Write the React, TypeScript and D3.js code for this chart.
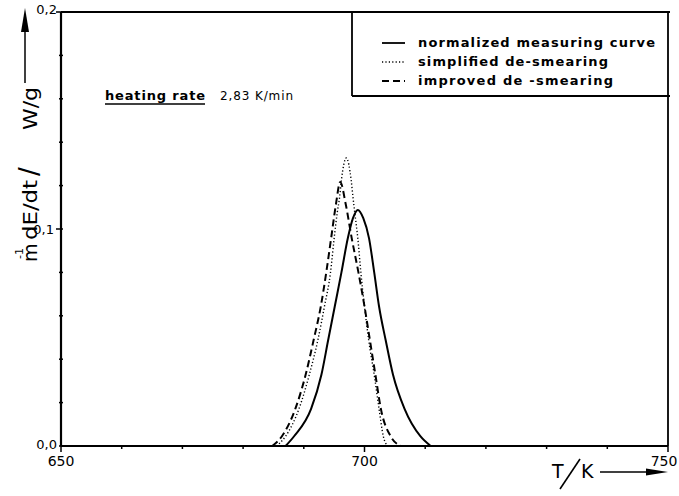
import React from 'react';
import * as d3 from 'd3';

// curves: [T in K, m^-1 dE/dt in W/g]
const measuringCurve: [number, number][] = [
  [687.0, 0], [688.4, 0.0045], [691.2, 0.0171], [692.9, 0.0328], [694.0, 0.0486],
  [695.1, 0.0643], [696.2, 0.080], [697.25, 0.0957], [698.1, 0.105], [698.9, 0.1088],
  [699.8, 0.105], [700.75, 0.0957], [701.6, 0.080], [702.4, 0.0643], [703.5, 0.0486],
  [704.7, 0.0328], [706.6, 0.0171], [709.2, 0.0045], [710.9, 0],
];
const simplifiedCurve: [number, number][] = [
  [685.5, 0], [687.0, 0.0045], [689.2, 0.0171], [690.9, 0.0328], [692.3, 0.0486],
  [693.4, 0.0643], [694.4, 0.080], [695.0, 0.0957], [695.5, 0.1074], [695.9, 0.1147],
  [696.2, 0.1226], [697.0, 0.1327], [697.8, 0.1226], [698.1, 0.1147], [698.4, 0.1074],
  [698.9, 0.0957], [699.4, 0.080], [700.0, 0.0643], [700.7, 0.0486], [701.6, 0.0328],
  [702.4, 0.0171], [703.1, 0.0045], [703.8, 0],
];
const improvedCurve: [number, number][] = [
  [684.8, 0], [686.4, 0.0045], [688.6, 0.0171], [690.3, 0.0328], [691.6, 0.0486],
  [692.8, 0.0643], [693.7, 0.080], [694.5, 0.0957], [695.3, 0.1115], [696.0, 0.1217],
  [696.9, 0.1115], [697.9, 0.0957], [699.0, 0.080], [700.0, 0.0643], [700.9, 0.0486],
  [701.8, 0.0328], [702.7, 0.0171], [704.3, 0.0045], [706.0, 0],
];

const xTickValues = [650, 700, 750];
const xTickLabels = ['650', '700', '750'];
const yTickValues = [0, 0.1, 0.2];
const yTickLabels = ['0,0', '0,1', '0,2'];

const legendLabels = ['normalized measuring curve', 'simplified de-smearing', 'improved de -smearing'];
const legendDash = ['none', '1.2,2.2', '7,4'];
const legendWidths = [237, 190, 195];

const font = '"DejaVu Sans", sans-serif';

export default function App() {
  const x = d3.scaleLinear().domain([650, 750]).range([61, 668]);
  const y = d3.scaleLinear().domain([0, 0.2]).range([446, 12]);

  const line = d3.line<[number, number]>()
    .x(d => x(d[0]))
    .y(d => y(d[1]))
    .curve(d3.curveMonotoneX);

  const series = [
    { data: measuringCurve, dash: 'none', w: 2 },
    { data: simplifiedCurve, dash: '1.2,2.2', w: 1.4 },
    { data: improvedCurve, dash: '7,4', w: 2 },
  ];

  const minorX = d3.range(650, 751, 10);
  const minorY = d3.range(0, 0.2001, 0.02);

  return (
    <svg width={679} height={496} style={{ position: 'absolute', left: 0, top: 0, background: '#fff' }}>
      {/* frame */}
      <g stroke="#000" fill="none">
        <line x1={x(650)} x2={x(650)} y1={y(0.2)} y2={y(0)} strokeWidth={2.2} />
        <line x1={x(650)} x2={x(750)} y1={y(0)} y2={y(0)} strokeWidth={2} />
        <line x1={x(750)} x2={x(750)} y1={y(0.2)} y2={y(0)} strokeWidth={1.8} />
        <line x1={x(650)} x2={x(750) + 2} y1={y(0.2)} y2={y(0.2)} strokeWidth={1.8} />
        {minorY.map(v => (
          <line key={'ty' + v} x1={x(650) - (Math.abs(v - 0.1) < 1e-6 || v > 0.199 ? 5 : 2)} x2={x(650) + 2}
            y1={y(v)} y2={y(v)} strokeWidth={1.5} />
        ))}
        {minorX.map(v => (
          <line key={'tx' + v} x1={x(v)} x2={x(v)} y1={y(0)}
            y2={y(0) + (v % 50 === 0 ? 6 : 3)} strokeWidth={1.5} />
        ))}
      </g>

      {/* curves */}
      {series.map((s, i) => (
        <path key={i} d={line(s.data) || ''} fill="none" stroke="#000"
          strokeWidth={s.w} strokeDasharray={s.dash} />
      ))}

      {/* tick labels */}
      <g fontFamily={font} fontSize={14} fill="#000" textAnchor="middle">
        {xTickValues.map((v, i) => (
          <text key={v} x={x(v) - (v === 750 ? 4 : 0)} y={466}>{xTickLabels[i]}</text>
        ))}
      </g>
      <g fontFamily={font} fontSize={13} fill="#000" textAnchor="end">
        {yTickValues.map((v, i) => (
          <text key={v} x={x(650) - (v === 0.1 ? 7 : 4)} y={y(v) + (v === 0.2 ? 2 : v === 0 ? 3 : 5)}>
            {yTickLabels[i]}
          </text>
        ))}
      </g>

      {/* legend */}
      <g stroke="#000" fill="none" strokeWidth={1.8}>
        <line x1={352} x2={352} y1={y(0.2)} y2={96} />
        <line x1={352} x2={x(750) + 2} y1={96} y2={96} />
      </g>
      {legendLabels.map((t, i) => {
        const by = 47 + i * 19;
        return (
          <g key={t}>
            <line x1={382} x2={405} y1={by - 4} y2={by - 4} stroke="#000"
              strokeWidth={i === 1 ? 1.4 : 1.8} strokeDasharray={legendDash[i]} />
            <text x={418} y={by} fontFamily={font} fontSize={13} fontWeight="bold"
              textLength={legendWidths[i]} lengthAdjust="spacing">{t}</text>
          </g>
        );
      })}

      {/* annotation */}
      <text x={105} y={100} fontFamily={font} fontSize={13} fontWeight="bold"
        textLength={100} lengthAdjust="spacing">heating rate</text>
      <line x1={105} x2={205} y1={104} y2={104} stroke="#000" strokeWidth={1.5} />
      <text x={220} y={100} fontFamily={font} fontSize={12}
        textLength={73} lengthAdjust="spacing">2,83 K/min</text>

      {/* y axis title */}
      <g transform="rotate(-90)" fontFamily={font} fill="#000">
        <text x={-262} y={37} fontSize={19}>m</text>
        <text x={-259} y={23} fontSize={11}>-1</text>
        <text x={-240} y={37} fontSize={19} textLength={60} lengthAdjust="spacingAndGlyphs">dE/dt</text>
        <text x={-176} y={38} fontSize={26}>/</text>
        <text x={-130} y={37} fontSize={19} textLength={43} lengthAdjust="spacingAndGlyphs">W/g</text>
      </g>
      <line x1={25} x2={25} y1={83} y2={26} stroke="#000" strokeWidth={1.5} />
      <path d="M25,8 L21,32 L29,32 Z" fill="#000" />

      {/* x axis title */}
      <text x={552} y={478} fontFamily={font} fontSize={19}>T</text>
      <line x1={560} x2={580} y1={489} y2={459} stroke="#000" strokeWidth={1.6} />
      <text x={581} y={478} fontFamily={font} fontSize={19}>K</text>
      <line x1={600} x2={655} y1={472} y2={472} stroke="#000" strokeWidth={1.5} />
      <path d="M668,472 L646,468.5 L646,475.5 Z" fill="#000" />
    </svg>
  );
}
